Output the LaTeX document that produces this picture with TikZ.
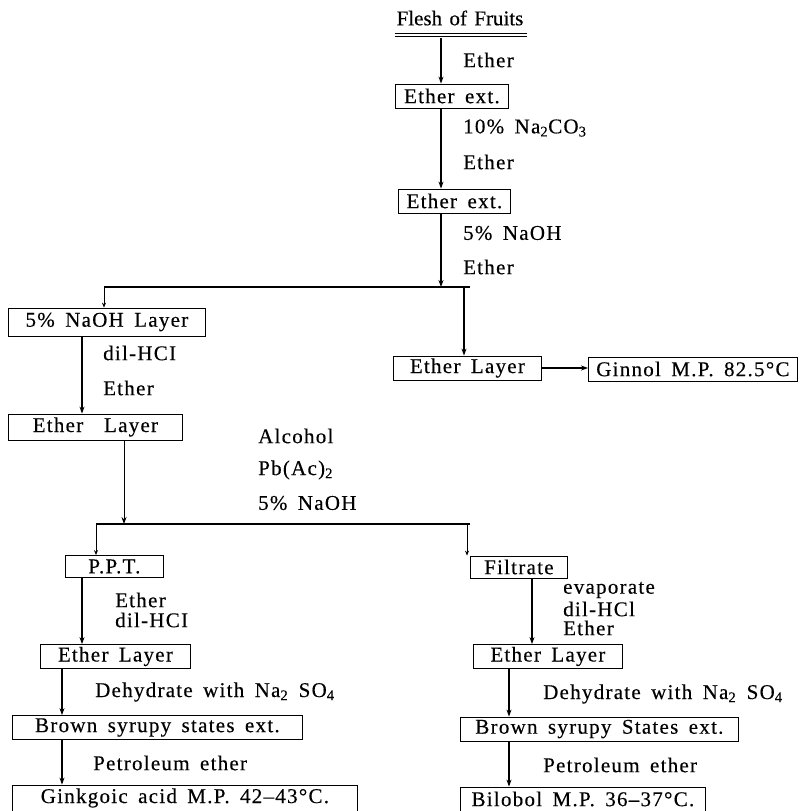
\documentclass[tikz,border=0pt]{standalone}
\usepackage{fontspec}
\setmainfont{Liberation Serif}[WordSpace=1.6, LetterSpace=6, FakeBold=0.3]
\newfontfamily\titlefont{Liberation Serif}[WordSpace=1.4, FakeBold=0.3]
\usetikzlibrary{arrows.meta,calc,positioning}

\begin{document}
\begin{tikzpicture}[x=1pt, y=-1pt, every node/.style={font=\fontsize{21}{24}\selectfont},
    labbox/.style={draw, line width=0.8pt, anchor=west, minimum height=24pt, inner xsep=4pt, inner ysep=0pt},
    flow/.style={-{Stealth[length=7pt,width=5pt]}, line width=1.1pt},
    tick/.style={-{Stealth[length=5pt,width=4pt]}, line width=0.8pt},
    cond/.style={anchor=west, inner sep=0pt}]
    \useasboundingbox (0,0) rectangle (800,811);

    % columns for the connectors
    \coordinate (trunk) at (441,0);
    \coordinate (lcol) at (82,0);
    \coordinate (lcolb) at (62,0);
    \coordinate (rcol) at (532,0);
    \coordinate (rcolb) at (509,0);

    % starting material
    \node[font=\titlefont\fontsize{21}{24}\selectfont] (flesh) at (460,18) {Flesh of Fruits};
    \draw[line width=0.8pt] (395,33) -- (527,33) (395,36.5) -- (527,36.5);
    \coordinate (ul) at (441,38);

    % main trunk
    \node[labbox, minimum width=113pt] (ext1) at (395,96) {Ether ext.};
    \node[labbox, minimum width=112pt] (ext2) at (398,201) {Ether ext.};
    \draw[flow] (ul) -- (ext1.north -| ul);
    \draw[flow] (ext1.south -| trunk) -- (ext2.north -| trunk);
    \node[cond] (c1) at (463,60) {Ether};
    \node[cond] (c2) at (463,128) {10\% Na\textsubscript{2}CO\textsubscript{3}};
    \node[cond] (c3) at (463,162) {Ether};
    \node[cond] (c4) at (463,233) {5\% NaOH};
    \node[cond] (c5) at (463,267) {Ether};

    % first split
    \coordinate (b1) at (441,287);
    \coordinate (b1l) at (104,287);
    \coordinate (b1r) at (464,287);
    \coordinate (b1e) at (470,287);
    \draw[flow] (ext2.south -| trunk) -- (b1);
    \draw[line width=1.1pt] (b1l) -- (b1e);

    \node[labbox, minimum width=197pt, minimum height=28pt] (naoh) at (8,322) {5\% NaOH Layer};
    \node[labbox, minimum width=148pt] (lay1) at (393,368) {Ether Layer};
    \node[labbox, minimum width=209pt] (ginnol) at (588,369) {Ginnol M.P. 82.5°C};
    \draw[tick] (b1l) -- (naoh.north -| b1l);
    \draw[flow] (b1r) -- (lay1.north -| b1r);
    \draw[flow] (lay1.east) -- (lay1.east -| ginnol.west);

    % acid part
    \node[labbox, minimum width=174pt, minimum height=26pt] (lay2) at (8,427) {Ether\ \ Layer};
    \draw[flow] (naoh.south -| lcol) -- (lay2.north -| lcol);
    \node[cond] (c6) at (103,353) {dil-HCI};
    \node[cond] (c7) at (103,388) {Ether};

    % second split
    \coordinate (b2) at (124,524);
    \coordinate (b2l) at (96,524);
    \coordinate (b2r) at (467,524);
    \coordinate (b2e) at (470,524);
    \draw[flow, line width=0.8pt] (lay2.south -| b2) -- (b2);
    \draw[line width=1.1pt] (b2l) -- (b2e);
    \node[cond] (c8) at (258,436) {Alcohol};
    \node[cond] (c9) at (258,470) {Pb(Ac)\textsubscript{2}};
    \node[cond] (c10) at (258,503) {5\% NaOH};

    % precipitate branch
    \node[labbox, minimum width=98pt, minimum height=22pt] (ppt) at (65,566.5) {P.P.T.};
    \node[labbox, minimum width=150pt] (lay3) at (40,656.5) {Ether Layer};
    \node[labbox, minimum width=290pt] (brown1) at (12,727.5) {Brown syrupy states ext.};
    \node[labbox, minimum width=345pt, minimum height=26pt] (gink) at (12,798) {Ginkgoic acid M.P. 42--43°C.};
    \draw[tick] (b2l) -- (ppt.north -| b2l);
    \draw[flow] (ppt.south -| lcol) -- (lay3.north -| lcol);
    \draw[flow] (lay3.south -| lcolb) -- (brown1.north -| lcolb);
    \draw[flow] (brown1.south -| lcolb) -- (gink.north -| lcolb);
    \node[cond] (c11) at (115,600) {Ether};
    \node[cond] (c12) at (115,620) {dil-HCI};
    \node[cond] (c13) at (95,692) {Dehydrate with Na\textsubscript{2} SO\textsubscript{4}};
    \node[cond] (c14) at (93,763) {Petroleum ether};

    % filtrate branch
    \node[labbox, minimum width=97pt, minimum height=22pt] (filt) at (470,567) {Filtrate};
    \node[labbox, minimum width=149pt] (lay4) at (473,656.5) {Ether Layer};
    \node[labbox, minimum width=278pt] (brown2) at (460,729) {Brown syrupy States ext.};
    \node[labbox, minimum width=245pt] (bilo) at (460,799) {Bilobol M.P. 36--37°C.};
    \draw[tick] (b2r) -- (filt.north -| b2r);
    \draw[flow] (filt.south -| rcol) -- (lay4.north -| rcol);
    \draw[flow] (lay4.south -| rcolb) -- (brown2.north -| rcolb);
    \draw[flow] (brown2.south -| rcolb) -- (bilo.north -| rcolb);
    \node[cond] (c15) at (563,590) {evaporate};
    \node[cond] (c16) at (563,609) {dil-HCl};
    \node[cond] (c17) at (563,628) {Ether};
    \node[cond] (c18) at (543,694) {Dehydrate with Na\textsubscript{2} SO\textsubscript{4}};
    \node[cond] (c19) at (543,765) {Petroleum ether};
\end{tikzpicture}
\end{document}
